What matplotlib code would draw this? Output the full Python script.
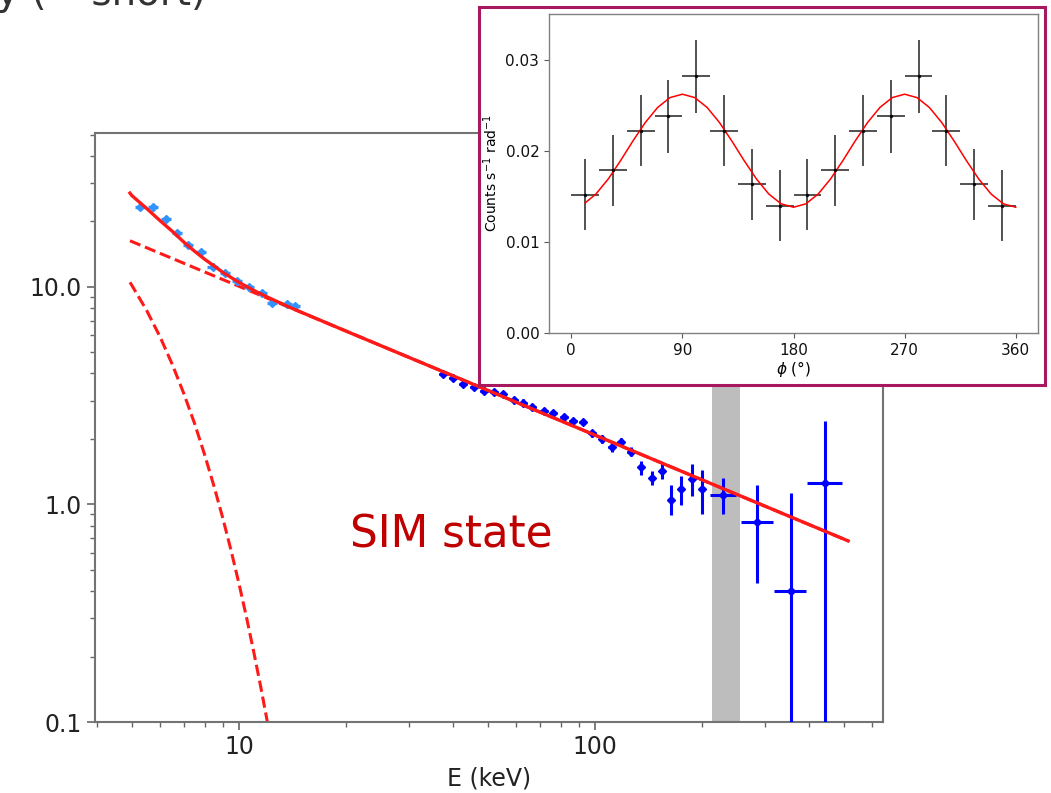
import matplotlib
matplotlib.use('Agg')
import matplotlib.pyplot as plt
from matplotlib.patches import Rectangle

# ---- main spectrum data ----
# soft X-ray points (light blue)
soft_E = [5.27, 5.74, 6.24, 6.71, 7.21, 7.82, 8.43, 9.14, 9.86, 10.7, 11.6, 12.4, 13.6, 14.4]
soft_F = [23.3, 23.2, 20.5, 17.7, 15.6, 14.5, 12.4, 11.6, 10.6, 9.97, 9.35, 8.47, 8.35, 8.2]
soft_dE = [0.17, 0.19, 0.21, 0.22, 0.24, 0.26, 0.28, 0.30, 0.33, 0.35, 0.38, 0.41, 0.45, 0.48]
soft_dF = [0.8, 0.8, 0.7, 0.6, 0.55, 0.5, 0.43, 0.4, 0.37, 0.35, 0.33, 0.3, 0.29, 0.28]

# hard X-ray points (blue)
hard_E = [37.5, 39.8, 42.7, 45.7, 48.8, 52.1, 55.0, 59.2, 62.9, 66.6, 71.9, 76.4, 81.8, 86.9,
          92.3, 98.2, 104.9, 111.3, 118.0, 125.9, 134.5, 144.2, 153.8, 163.3, 174.4, 187.0,
          199.5, 229.3, 285.6, 354.8, 442.6]
hard_F = [3.98, 3.80, 3.57, 3.46, 3.34, 3.28, 3.21, 3.02, 2.94, 2.82, 2.70, 2.62, 2.53, 2.43,
          2.39, 2.12, 2.00, 1.83, 1.94, 1.75, 1.48, 1.33, 1.43, 1.05, 1.175, 1.31,
          1.175, 1.11, 0.834, 0.40, 1.25]
hard_dE_lo = [1.0, 1.0, 1.1, 1.2, 1.3, 1.4, 1.4, 1.5, 1.6, 1.7, 1.8, 1.9, 2.0, 2.2,
              2.3, 2.5, 2.6, 2.8, 3.0, 3.2, 2.6, 2.8, 3.0, 3.2, 3.4, 3.6,
              3.9, 19, 29, 36, 49]
hard_dE_hi = [1.0, 1.0, 1.1, 1.2, 1.3, 1.4, 1.4, 1.5, 1.6, 1.7, 1.8, 1.9, 2.0, 2.2,
              2.3, 2.5, 2.6, 2.8, 3.0, 3.2, 2.6, 2.8, 3.0, 3.2, 3.4, 3.6,
              3.9, 20, 31, 37, 50]
hard_dF_lo = [0.13, 0.12, 0.12, 0.11, 0.11, 0.11, 0.10, 0.10, 0.10, 0.09, 0.09, 0.09, 0.085,
              0.08, 0.08, 0.08, 0.08, 0.08, 0.08, 0.08, 0.11, 0.10, 0.12, 0.155, 0.18, 0.22,
              0.27, 0.21, 0.40, 0.395, 1.245]
hard_dF_hi = [0.13, 0.12, 0.12, 0.11, 0.11, 0.11, 0.10, 0.10, 0.10, 0.09, 0.09, 0.09, 0.085,
              0.08, 0.08, 0.08, 0.08, 0.08, 0.08, 0.08, 0.11, 0.10, 0.12, 0.18, 0.18, 0.22,
              0.27, 0.21, 0.40, 0.73, 1.18]

# model curves
total_E = [4.94, 5.0, 5.5, 6.0, 6.5, 7.0, 7.5, 8.0, 8.5, 9.0, 10.0, 11.0, 12.0, 14.0, 20.0, 514.0]
total_F = [27.0, 26.3, 22.96, 20.17, 18.0, 16.07, 14.6, 13.42, 12.5, 11.68, 10.49, 9.64, 8.99, 8.01, 6.26, 0.68]
pl_E = [4.94, 514.0]
pl_F = [16.3, 0.68]
disk_E = [4.94, 5.0, 5.5, 6.0, 6.5, 7.0, 7.5, 8.0, 8.5, 9.0, 9.5, 10.0, 10.5, 11.0, 11.5, 12.0, 12.3]
disk_F = [10.5, 10.17, 7.81, 5.90, 4.39, 3.23, 2.36, 1.70, 1.218, 0.868, 0.614, 0.432, 0.302,
          0.210, 0.146, 0.101, 0.08]

band_E = [213, 255]

# ---- modulation curve (inset) ----
phi = [11.25, 33.75, 56.25, 78.75, 101.25, 123.75, 146.25, 168.75,
       191.25, 213.75, 236.25, 258.75, 281.25, 303.75, 326.25, 348.75]
rate = [0.01516, 0.01784, 0.0222, 0.02377, 0.02817, 0.0222, 0.01634, 0.01396,
        0.01516, 0.01784, 0.0222, 0.02377, 0.02817, 0.0222, 0.01634, 0.01396]
rate_err = [0.0039, 0.0039, 0.0039, 0.0040, 0.0040, 0.0039, 0.0039, 0.0039,
            0.0039, 0.0039, 0.0039, 0.0040, 0.0040, 0.0039, 0.0039, 0.0039]
phi_fit = [11.25, 20, 30, 40, 50, 60, 70, 80, 90, 100, 110, 120, 130, 140, 150, 160, 170, 180,
           190, 200, 210, 220, 230, 240, 250, 260, 270, 280, 290, 300, 310, 320, 330, 340, 350, 360]
rate_fit = [0.01427, 0.01525, 0.0169, 0.01892, 0.02108, 0.0231, 0.02475, 0.02583, 0.0262,
            0.02583, 0.02475, 0.0231, 0.02108, 0.01892, 0.0169, 0.01525, 0.01417, 0.0138,
            0.01417, 0.01525, 0.0169, 0.01892, 0.02108, 0.0231, 0.02475, 0.02583, 0.0262,
            0.02583, 0.02475, 0.0231, 0.02108, 0.01892, 0.0169, 0.01525, 0.01417, 0.0138]

W, H = 1051, 793
fig = plt.figure(figsize=(W / 100, H / 100), dpi=100)

# %% main spectrum
ax = fig.add_axes([95 / W, 1 - 722 / H, 788 / W, 589 / H], zorder=0)
ax.set_xscale('log')
ax.set_yscale('log')
ax.axvspan(band_E[0], band_E[1], color='#bdbdbd', lw=0, zorder=1)

ax.plot(disk_E, disk_F, color='#ff1a1a', lw=2.2, ls='--', zorder=2)
ax.plot(pl_E, pl_F, color='#ff1a1a', lw=2.2, ls='--', zorder=2)
ax.errorbar(soft_E, soft_F, xerr=soft_dE, yerr=soft_dF, fmt='D', ms=4.5,
            color='#3093ff', ecolor='#3093ff', elinewidth=2.4, capsize=0, zorder=3)
ax.errorbar(hard_E, hard_F, xerr=[hard_dE_lo, hard_dE_hi], yerr=[hard_dF_lo, hard_dF_hi],
            fmt='D', ms=4.5, color='#0000ff', ecolor='#0000ff', elinewidth=2.2, capsize=0, zorder=3)
ax.plot(total_E, total_F, color='#ff1a1a', lw=2.4, zorder=4)

ax.set_xlim(3.94, 644)
ax.set_ylim(0.1, 51)
ax.set_xticks([10, 100])
ax.set_xticklabels(['10', '100'])
ax.set_xticks([4, 5, 6, 7, 8, 9, 20, 30, 40, 50, 60, 70, 80, 90, 200, 300, 400, 500, 600], minor=True)
ax.set_xticklabels([], minor=True)
ax.set_yticks([0.1, 1, 10])
ax.set_yticklabels(['0.1', '1.0', '10.0'])
ax.set_yticks([0.2, 0.3, 0.4, 0.5, 0.6, 0.7, 0.8, 0.9, 2, 3, 4, 5, 6, 7, 8, 9, 20, 30, 40, 50], minor=True)
ax.set_yticklabels([], minor=True)
ax.tick_params(which='major', labelsize=17, length=6, width=1.2, color='0.4', labelcolor='#222222')
ax.tick_params(which='minor', length=3.5, width=1.0, color='0.4')
for s in ax.spines.values():
    s.set_color('0.45')
    s.set_linewidth(1.5)
ax.set_xlabel('E (keV)', fontsize=17, color='#222222', labelpad=5)

ax.text(0.323, 0.318, 'SIM state', transform=ax.transAxes, fontsize=31.5,
        color='#c00000', ha='left', va='center')

# cut-off slide title at the top edge
fig.text(-0.004, 1 - 5 / H, 'y (~ short)', fontsize=28, color='#333333', va='baseline')

# %% frame around the inset
fig.add_artist(Rectangle((479 / W, 1 - 385 / H), 566 / W, 378 / H, transform=fig.transFigure,
                         facecolor='white', edgecolor='#a8185e', lw=2.2, zorder=1))

# %% inset: modulation curve
ins = fig.add_axes([549 / W, 1 - 333 / H, 489 / W, 319 / H], zorder=2)
ins.errorbar(phi, rate, xerr=11.25, yerr=rate_err, fmt='.', ms=3, color='black',
             elinewidth=1.2, capsize=0, alpha=0.8)
ins.plot(phi_fit, rate_fit, color='#ff0000', lw=1.1)
ins.set_xlim(-18, 378)
ins.set_ylim(0, 0.035)
ins.set_xticks([0, 90, 180, 270, 360])
ins.set_yticks([0, 0.01, 0.02, 0.03])
ins.set_yticklabels(['0.00', '0.01', '0.02', '0.03'])
ins.tick_params(labelsize=11, length=3.5, color='0.35', labelcolor='#111111')
for s in ins.spines.values():
    s.set_color('0.5')
    s.set_linewidth(1.0)
ins.set_xlabel(r'$\phi$ (°)', fontsize=11, labelpad=1)
ins.set_ylabel(r'Counts s$^{-1}$ rad$^{-1}$', fontsize=10, labelpad=4)

fig.savefig('out.png', dpi=100)
